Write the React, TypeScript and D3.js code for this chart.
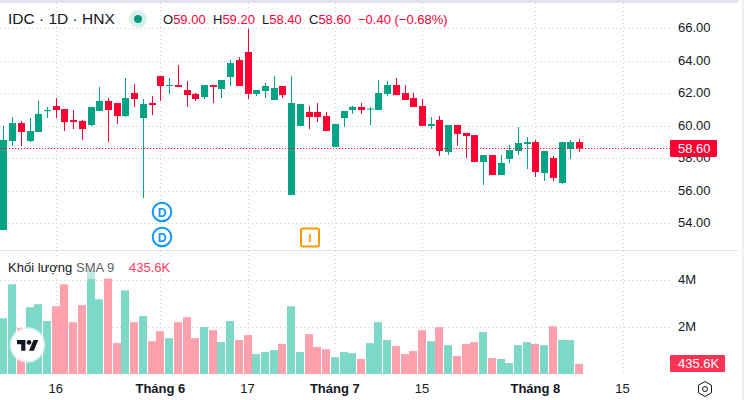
import React from 'react';
import * as d3 from 'd3';

const opens = [53.59,59.06,60.17,59.06,59.62,60.9,61.22,61.03,60.36,60.3,60.05,60.91,61.53,61.4,60.6,62.02,60.48,61.4,63.06,62.45,62.51,62.2,61.96,61.77,62.51,62.26,63,64.05,64.54,61.96,62.14,61.59,62.45,55.74,59.99,60.85,60.85,60.6,58.7,60.48,60.97,61.16,61,60.97,61.96,62.51,62.02,61.71,61.22,59.99,60.36,58.39,60.05,59.56,59.43,57.77,58.2,56.97,57.96,58.45,58.88,59,57.09,58.02,56.48,58.57,59];
const highs = [60,60.54,60.3,60.48,61.53,61.16,61.71,61.03,60.97,60.36,61.16,62.39,61.71,61.4,62.94,62.57,61.65,61.83,63.06,62.94,63.74,62.76,62.02,62.51,62.51,62.82,64.05,64.23,65.96,62.2,62.63,63.06,62.45,63.06,61.34,61.22,61.4,60.85,60.11,60.91,61.22,61.4,61.16,62.82,62.76,62.94,62.51,62.02,61.65,60.54,60.6,60.05,60.05,59.56,59.43,58.2,58.2,58.2,58.82,59.93,59.31,59.13,58.45,58.14,59,59.13,59.2];
const lows = [53.59,58.76,58.76,59,59.62,60.48,60.48,59.68,59.8,59.13,59.99,60.91,59,60.11,60.54,61.16,55.56,60.66,61.53,61.96,62.39,61.16,61.53,61.65,61.4,61.71,62.45,62.45,61.65,61.83,61.71,61.59,61.71,55.74,59.99,59.8,60.23,59.68,58.7,59.93,60.73,60.73,60.05,60.97,61.83,61.89,61.59,61.16,59.99,59.8,58.14,58.2,58.76,58.02,57.77,56.36,56.97,56.97,57.71,58.2,57.34,56.85,56.6,56.6,56.42,57.96,58.4];
const closes = [59.13,60.17,59.62,59.68,60.73,60.97,60.97,60.23,60.23,59.8,61.16,61.53,60.97,60.6,61.71,61.65,61.34,61.28,62.45,62.51,62.39,61.89,61.65,62.51,62.39,62.82,63.86,62.45,61.96,62.2,62.45,62.33,61.89,61.4,61.34,60.54,60.54,59.68,60.11,60.91,61.16,60.97,61.06,62.02,62.51,61.89,61.59,61.16,59.99,60.11,58.45,60.05,59.5,59.37,57.77,58.2,56.97,57.71,58.51,58.94,59,57.16,58.45,56.79,59,59,58.6];
const volumes = [2.38,3.83,1.96,2.85,2.98,2.26,2.89,3.83,2.21,2.94,4.43,3.19,4.09,1.32,3.57,2.21,2.47,1.4,1.83,1.53,2.21,2.43,1.53,2,1.87,1.36,2.26,1.45,1.66,0.85,0.94,1.02,1.28,2.89,0.94,1.7,1.15,1.06,0.72,0.94,0.89,0.64,1.32,2.21,1.45,1.19,0.85,0.98,1.87,1.4,2,1.23,0.77,1.28,1.36,1.79,0.68,0.64,0.47,1.23,1.36,1.28,1.23,2.04,1.45,1.45,0.4356];

const priceTicks = [66, 64, 62, 60, 58, 56, 54];
const volumeTicks = [4, 2];
const timeTickIndex = [6, 18, 28, 38, 48, 61, 71];
const timeTickLabels = ['16', 'Tháng 6', '17', 'Tháng 7', '15', 'Tháng 8', '15'];
const timeTickMonth = [false, true, false, true, false, true, false];
const ohlcLetters = ['O', 'H', 'L', 'C'];
const ohlcValues = ['59.00', '59.20', '58.40', '58.60'];
const ohlcX = [163, 213, 262, 309];

const UP = '#00A383';
const DOWN = '#FF0033';
const UP_VOL = '#7DD8C8';
const DOWN_VOL = '#FFA0AD';
const TEXT = '#131722';
const GRID = '#CDD0D8';
const FONT = '"Liberation Sans", Arial, sans-serif';

const lastPrice = closes[closes.length - 1];

const App = () => {
  const x = d3.scaleLinear().domain([0, 66]).range([3.4, 579]);
  const y = d3.scaleLinear().domain([66, 54]).range([28.3, 223.3]);
  const yVol = d3.scaleLinear().domain([0, 4]).range([374, 280.3]);

  return (
    <svg
      width={744}
      height={400}
      style={{ position: 'absolute', left: 0, top: 0, background: '#fff' }}
      fontFamily={FONT}
    >
      {/* frame */}
      <rect x={0} y={0} width={738} height={3} fill="#E0E3EB" />
      <rect x={0} y={250} width={738} height={1} fill="#E0E3EB" />
      <rect x={742} y={0} width={2} height={400} fill="#F0F1F5" />

      {/* grid */}
      {timeTickIndex.map((t, i) => (
        <g key={i}>
          <line x1={Math.round(x(t)) + 0.5} x2={Math.round(x(t)) + 0.5} y1={3} y2={250} stroke={GRID} strokeDasharray="1 3" />
          <line x1={Math.round(x(t)) + 0.5} x2={Math.round(x(t)) + 0.5} y1={251} y2={374} stroke={GRID} strokeDasharray="1 3" />
        </g>
      ))}
      {priceTicks.map(p => (
        <line key={p} x1={0} x2={669} y1={Math.round(y(p)) + 0.5} y2={Math.round(y(p)) + 0.5} stroke={GRID} strokeDasharray="1 3" />
      ))}
      {volumeTicks.map(v => (
        <line key={v} x1={0} x2={669} y1={Math.round(yVol(v)) + 0.5} y2={Math.round(yVol(v)) + 0.5} stroke={GRID} strokeDasharray="1 3" />
      ))}

      {/* volume bars */}
      {volumes.map((v, i) => {
        const up = closes[i] >= opens[i];
        return (
          <rect
            key={i}
            x={Math.round(x(i) - 4)}
            y={yVol(v)}
            width={8}
            height={yVol(0) - yVol(v)}
            fill={up ? UP_VOL : DOWN_VOL}
          />
        );
      })}

      {/* candles */}
      {opens.map((o, i) => {
        const c = closes[i];
        const color = c >= o ? UP : DOWN;
        const cx = Math.round(x(i));
        const top = Math.min(y(o), y(c));
        const h = Math.max(Math.abs(y(o) - y(c)), 1);
        return (
          <g key={i} fill={color}>
            <rect x={cx} y={y(highs[i])} width={1} height={y(lows[i]) - y(highs[i])} />
            <rect x={cx - 3} y={top} width={7} height={h} />
          </g>
        );
      })}

      {/* last price line */}
      <line x1={0} x2={670} y1={Math.floor(y(lastPrice)) + 0.5} y2={Math.floor(y(lastPrice)) + 0.5} stroke={DOWN} strokeWidth={1.2} strokeDasharray="1.2 1.8" />

      {/* event markers */}
      {[212, 237].map(cy => (
        <g key={cy}>
          <circle cx={162} cy={cy} r={9.3} fill="#fff" stroke="#1097FF" strokeWidth={2} />
          <text x={162} y={cy + 4.5} fontSize={12} fontWeight={700} fill="#1097FF" textAnchor="middle">D</text>
        </g>
      ))}
      <rect x={301} y={228.5} width={18} height={18} rx={2} fill="#fff" stroke="#FF9800" strokeWidth={2} />
      <text x={310} y={242} fontSize={11} fontWeight={700} fill="#FF9800" textAnchor="middle">I</text>

      {/* legend */}
      <rect x={0} y={256} width={172} height={23} fill="#fff" opacity={0.5} />
      <text x={8} y={24} fontSize={15.5} fill={TEXT}>IDC · 1D · HNX</text>
      <circle cx={138} cy={19} r={9} fill="#D7F0EB" />
      <circle cx={138} cy={19} r={4} fill="#089981" />
      {ohlcLetters.map((l, i) => (
        <text key={l} x={ohlcX[i]} y={24} fontSize={13} fill={DOWN}>
          <tspan fill={TEXT}>{l}</tspan>{ohlcValues[i]}
        </text>
      ))}
      <text x={358} y={24} fontSize={13} fill={DOWN}>−0.40 (−0.68%)</text>
      <text x={8} y={272} fontSize={13} fill={TEXT}>Khối lượng</text>
      <text x={76} y={272} fontSize={13} fill="#5D606B">SMA 9</text>
      <text x={129} y={272} fontSize={13} fill="#FF3D5C">435.6K</text>

      {/* price axis */}
      {priceTicks.map(p => (
        <text key={p} x={678} y={y(p) + 4} fontSize={13} fill={TEXT}>{d3.format('.2f')(p)}</text>
      ))}
      <rect x={670} y={140} width={47} height={17} rx={1} fill={DOWN} />
      <text x={678} y={153} fontSize={13} fill="#fff">{d3.format('.2f')(lastPrice)}</text>

      {/* volume axis */}
      {volumeTicks.map(v => (
        <text key={v} x={678} y={yVol(v) + 4} fontSize={13} fill={TEXT}>{v}M</text>
      ))}
      <rect x={670} y={355} width={55} height={17} rx={1} fill="#FF3355" />
      <text x={678} y={368} fontSize={13} fill="#fff">435.6K</text>

      {/* time axis */}
      {timeTickIndex.map((t, i) => (
        <text
          key={i}
          x={x(t)}
          y={393}
          fontSize={13}
          fontWeight={timeTickMonth[i] ? 700 : 400}
          fill={TEXT}
          textAnchor="middle"
        >
          {timeTickLabels[i]}
        </text>
      ))}

      {/* settings icon */}
      <path
        d="M705 381.5l6.5 3.75v7.5L705 396.5l-6.5-3.75v-7.5Z"
        fill="none"
        stroke="#131722"
        strokeWidth={1}
        strokeLinejoin="round"
      />
      <circle cx={705} cy={389} r={2.5} fill="none" stroke="#131722" />

      {/* logo */}
      <circle cx={27.5} cy={345} r={18} fill="#fff" opacity={0.5} />
      <circle cx={27.5} cy={345} r={16.5} fill="#fff" />
      <g transform="translate(17,337.6) scale(0.6)" fill="#131722">
        <path d="M14 22H7V11H0V4h14v18zM28 22h-8l7.5-18h8L28 22z" />
        <circle cx={20} cy={8} r={4} />
      </g>
    </svg>
  );
};

export default App;
